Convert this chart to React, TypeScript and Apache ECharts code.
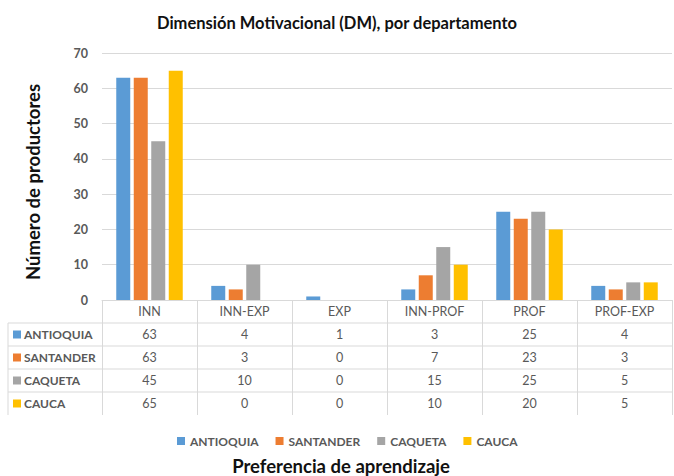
import React, { useEffect, useRef } from "react";
import * as echarts from "echarts";

const categories = ["INN", "INN-EXP", "EXP", "INN-PROF", "PROF", "PROF-EXP"];
const seriesNames = ["ANTIOQUIA", "SANTANDER", "CAQUETA", "CAUCA"];
const antioquia = [63, 4, 1, 3, 25, 4];
const santander = [63, 3, 0, 7, 23, 3];
const caqueta = [45, 10, 0, 15, 25, 5];
const cauca = [65, 0, 0, 10, 20, 5];
const colors = ["#5B9BD5", "#ED7D31", "#A5A5A5", "#FFC000"];
const yTicks = { min: 0, max: 70, interval: 10 };

const FONT = "Lato, 'Open Sans', sans-serif";

export default function App() {
  const ref = useRef<HTMLDivElement>(null);
  useEffect(() => {
    document.body.style.margin = "0";
    if (!ref.current) return;
    const chart = echarts.init(ref.current, undefined, { renderer: "svg" });
    const allSeries = [antioquia, santander, caqueta, cauca];
    const gridLeft = 102;
    const gridRight = 672;
    const axisY = 300;
    const rowH = 23;
    const tableLeft = 8;

    const graphic: any[] = [];
    for (let i = 1; i <= allSeries.length; i++) {
      const y = axisY + rowH * i;
      graphic.push({
        type: "line",
        shape: { x1: tableLeft, y1: y, x2: gridRight, y2: y },
        style: { stroke: "#D9D9D9", lineWidth: 1 },
        silent: true,
      });
    }
    graphic.push({
      type: "line",
      shape: { x1: tableLeft, y1: axisY + rowH, x2: tableLeft, y2: axisY + rowH * (allSeries.length + 1) },
      style: { stroke: "#D9D9D9", lineWidth: 1 },
      silent: true,
    });
    seriesNames.forEach((name, i) => {
      const cy = axisY + rowH * (i + 1) + rowH / 2;
      graphic.push({
        type: "rect",
        shape: { x: 13, y: cy - 4, width: 8, height: 8 },
        style: { fill: colors[i] },
        silent: true,
      });
      graphic.push({
        type: "text",
        x: 24,
        y: cy,
        style: {
          text: name,
          fill: "#595959",
          font: `bold 12px ${FONT}`,
          verticalAlign: "middle",
          align: "left",
        },
        silent: true,
      });
    });
    graphic.push({
      type: "text",
      x: 33,
      y: 182,
      rotation: Math.PI / 2,
      style: {
        text: "Número de productores",
        fill: "#111111",
        font: `bold 18.5px ${FONT}`,
        align: "center",
        verticalAlign: "middle",
      },
      silent: true,
    });
    graphic.push({
      type: "text",
      x: 341,
      y: 466,
      style: {
        text: "Preferencia de aprendizaje",
        fill: "#111111",
        font: `bold 18.5px ${FONT}`,
        align: "center",
        verticalAlign: "middle",
      },
      silent: true,
    });

    chart.setOption({
      animation: false,
      title: {
        text: "Dimensión Motivacional (DM), por departamento",
        left: "center",
        top: 9,
        textStyle: { fontFamily: FONT, fontSize: 16.5, fontWeight: "bold", color: "#111111" },
      },
      legend: {
        data: seriesNames,
        left: 172,
        top: 430,
        itemWidth: 8,
        itemHeight: 8,
        itemGap: 17,
        icon: "rect",
        textStyle: { fontFamily: FONT, fontSize: 12, fontWeight: "bold", color: "#595959" },
      },
      grid: { left: gridLeft, right: 674 - gridRight, top: 53, bottom: 476 - axisY },
      xAxis: {
        type: "category",
        data: categories,
        axisLine: { lineStyle: { color: "#D9D9D9" } },
        axisTick: {
          show: true,
          interval: 0,
          alignWithLabel: false,
          length: rowH * (allSeries.length + 1),
          lineStyle: { color: "#D9D9D9" },
        },
        axisLabel: {
          interval: 0,
          margin: 0,
          color: "#595959",
          fontFamily: FONT,
          fontSize: 12.5,
          lineHeight: rowH,
          formatter: (value: string, idx: number) =>
            [value, ...allSeries.map((s) => String(s[idx]))].join("\n"),
        },
      },
      yAxis: {
        type: "value",
        min: yTicks.min,
        max: yTicks.max,
        interval: yTicks.interval,
        axisLine: { show: false },
        axisTick: { show: false },
        splitLine: { lineStyle: { color: "#D9D9D9" } },
        axisLabel: { color: "#595959", fontFamily: FONT, fontSize: 12.5, fontWeight: "bold", margin: 14 },
      },
      graphic,
      series: allSeries.map((data, i) => ({
        name: seriesNames[i],
        type: "bar",
        data,
        barWidth: 14,
        barGap: "25%",
        itemStyle: { color: colors[i] },
      })),
    });
    return () => chart.dispose();
  }, []);
  return <div ref={ref} style={{ width: 674, height: 476 }} />;
}
